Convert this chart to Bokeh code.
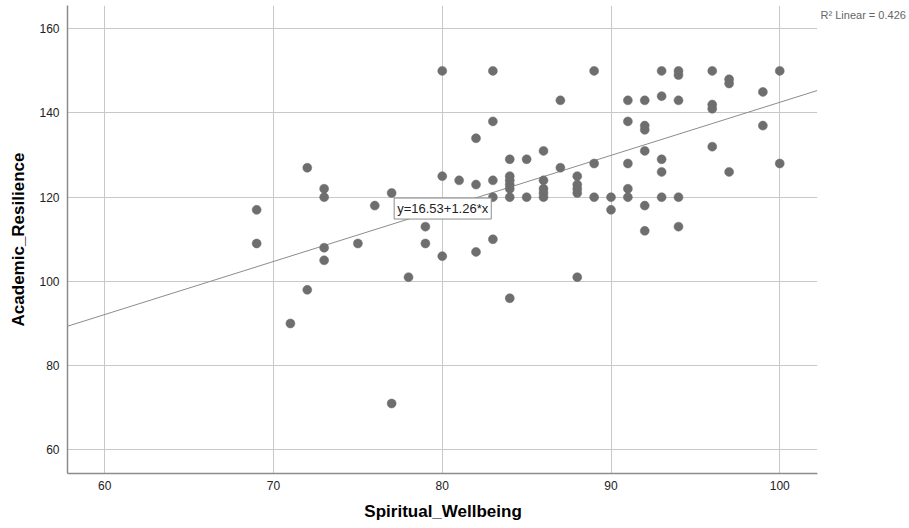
from bokeh.plotting import figure
from bokeh.models import Label, Range1d, SingleIntervalTicker, BoxAnnotation, Title
from bokeh.embed import file_html
from bokeh.resources import INLINE

# Spiritual_Wellbeing (x) and Academic_Resilience (y)
spiritual_wellbeing = [
    69, 69,
    71,
    72, 72,
    73, 73, 73, 73,
    75,
    76,
    77, 77,
    78,
    79, 79,
    80, 80, 80,
    81,
    82, 82, 82,
    83, 83, 83, 83, 83,
    84, 84, 84, 84, 84, 84, 84,
    85, 85,
    86, 86, 86, 86, 86,
    87, 87,
    88, 88, 88, 88, 88,
    89, 89, 89,
    90, 90,
    91, 91, 91, 91, 91,
    92, 92, 92, 92, 92, 92,
    93, 93, 93, 93, 93,
    94, 94, 94, 94, 94,
    96, 96, 96, 96,
    97, 97, 97,
    99, 99,
    100, 100,
]
academic_resilience = [
    117, 109,
    90,
    127, 98,
    122, 120, 108, 105,
    109,
    118,
    121, 71,
    101,
    113, 109,
    150, 125, 106,
    124,
    134, 123, 107,
    150, 138, 124, 120, 110,
    129, 125, 124, 123, 122, 120, 96,
    129, 120,
    131, 124, 122, 121, 120,
    143, 127,
    125, 123, 122, 121, 101,
    150, 128, 120,
    120, 117,
    143, 138, 128, 122, 120,
    143, 137, 136, 131, 118, 112,
    150, 144, 129, 126, 120,
    150, 149, 143, 120, 113,
    150, 142, 141, 132,
    148, 147, 126,
    145, 137,
    150, 128,
]

x_title = "Spiritual_Wellbeing"
y_title = "Academic_Resilience"

intercept = 16.53
slope = 1.26
r_squared = 0.426

# visible plot area (data units) and the extra strip on the right for the R² note
x_lo, x_hi = 57.79, 102.22
x_view_end = 107.69
y_lo, y_hi = 54.37, 165.53

FONT = "Liberation Sans"
W, LEFT = 909, 67
X_TITLE_WIDTH = 156  # approx. rendered width of the bold 17px x title

p = figure(
    output_backend="svg",
    toolbar_location=None,
    width=W,
    height=528,
    min_border_left=LEFT,
    min_border_right=0,
    min_border_top=5,
    min_border_bottom=55,
    x_range=Range1d(x_lo, x_view_end),
    y_range=Range1d(y_lo, y_hi),
    y_axis_label=y_title,
)
p.outline_line_color = None
p.background_fill_color = "white"
p.border_fill_color = "white"

p.xaxis.ticker = SingleIntervalTicker(interval=10)
p.yaxis.ticker = SingleIntervalTicker(interval=20)
p.xaxis.bounds = (x_lo, x_hi)

for ax in (p.xaxis, p.yaxis):
    ax.axis_line_color = "#8c8c8c"
    ax.axis_line_width = 1.5
    ax.major_tick_line_color = None
    ax.minor_tick_line_color = None
    ax.major_tick_out = 0
    ax.major_tick_in = 0
    ax.major_label_text_font = FONT
    ax.major_label_text_font_size = "12px"
    ax.major_label_text_color = "#222222"
    ax.axis_label_text_font = FONT
    ax.axis_label_text_font_size = "17px"
    ax.axis_label_text_font_style = "bold"
    ax.axis_label_text_color = "#000000"

p.xaxis.major_label_standoff = 3
p.yaxis.major_label_standoff = 4
p.yaxis.axis_label_standoff = 8

# x-axis title centred under the visible plot area (not the whole frame)
frame_w = W - LEFT
visible_w = frame_w * (x_hi - x_lo) / (x_view_end - x_lo)
title_offset = visible_w / 2 - X_TITLE_WIDTH / 2
p.add_layout(Title(text=x_title, align="left", offset=title_offset,
                   text_font=FONT, text_font_size="17px",
                   text_font_style="bold", text_color="#000000",
                   standoff=14), "below")

p.xgrid.grid_line_color = "#c8c8c8"
p.ygrid.grid_line_color = "#c8c8c8"
p.xgrid.grid_line_width = 1
p.ygrid.grid_line_width = 1

# fit line
line_x = [x_lo, x_hi]
line_y = [intercept + slope * v for v in line_x]
p.line(line_x, line_y, line_color="#8c8c8c", line_width=1)

p.scatter(spiritual_wellbeing, academic_resilience, size=9,
          fill_color="#6e6e6e", line_color="#6e6e6e", line_width=0.5)

# blank strip right of the plot area (holds the R² note)
p.add_layout(BoxAnnotation(left=x_hi, fill_color="white", fill_alpha=1.0,
                           line_color=None))

eq = Label(
    x=77.15, y=117.3, x_units="data", y_units="data",
    text=f"y={intercept:.2f}+{slope:.2f}*x",
    text_font=FONT, text_font_size="13px", text_color="#222222",
    text_align="left", text_baseline="middle",
    background_fill_color="white", border_line_color="#8c8c8c",
    border_line_width=1, padding=3,
)
p.add_layout(eq)

r2 = Label(
    x=102.42, y=163.39, x_units="data", y_units="data",
    text=f"R² Linear = {r_squared:.3f}",
    text_font=FONT, text_font_size="11px", text_color="#666666",
    text_align="left", text_baseline="middle",
)
p.add_layout(r2)

open("out.html", "w").write(file_html(p, INLINE))
